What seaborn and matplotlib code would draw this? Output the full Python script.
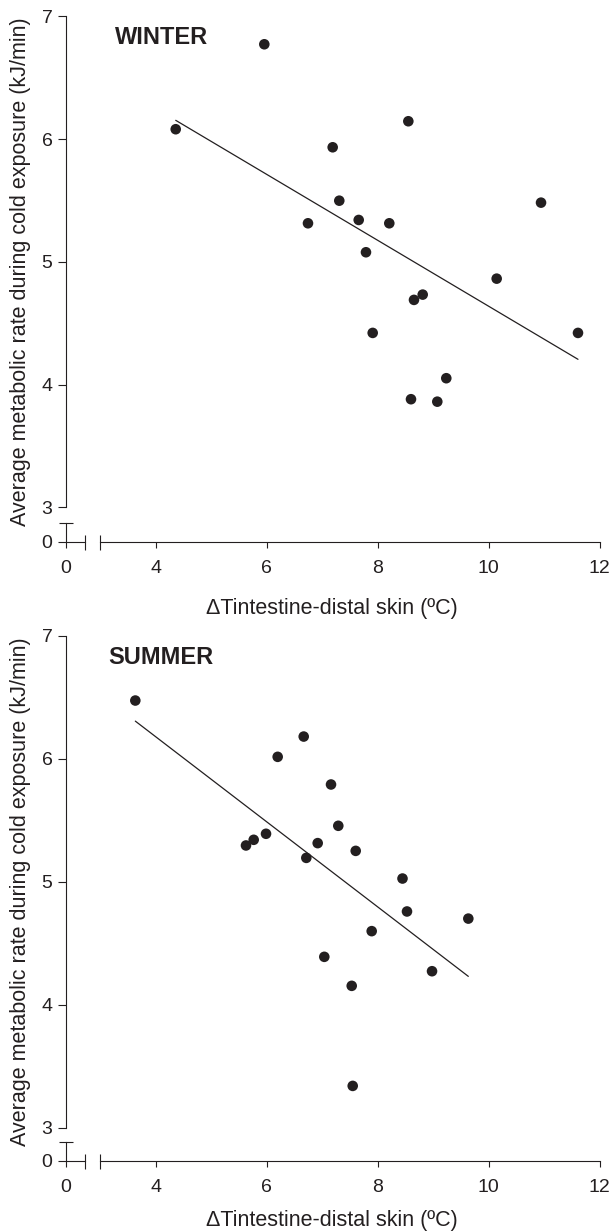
import matplotlib
matplotlib.use('Agg')
import matplotlib.pyplot as plt
import seaborn as sns
import pandas as pd

# ---- data ----
winter_x = [5.955, 4.359, 8.550, 7.187, 7.306, 6.742, 7.656, 8.207, 7.787,
            10.941, 10.142, 8.809, 8.652, 7.908, 11.607, 9.234, 8.598, 9.072]
winter_y = [6.773, 6.081, 6.146, 5.934, 5.499, 5.315, 5.342, 5.315, 5.079,
            5.483, 4.864, 4.734, 4.691, 4.422, 4.422, 4.053, 3.882, 3.862]

summer_x = [3.631, 6.665, 6.196, 7.157, 7.288, 5.986, 5.764, 5.625, 6.917, 7.602,
            6.712, 8.445, 8.526, 9.631, 7.890, 7.036, 8.977, 7.530, 7.548]
summer_y = [6.475, 6.182, 6.017, 5.792, 5.456, 5.391, 5.342, 5.296, 5.315, 5.252,
            5.195, 5.027, 4.759, 4.701, 4.599, 4.390, 4.273, 4.154, 3.340]

x_ticks = [4, 6, 8, 10, 12]
y_ticks = [3, 4, 5, 6, 7]
zero_ticks = [0]
panel_titles = ['WINTER', 'SUMMER']
x_label = '\u0394Tintestine-distal skin (\u00baC)'
y_label = 'Average metabolic rate during cold exposure (kJ/min)'

sns.set_theme(style='white')
plt.rcParams['font.family'] = ['Liberation Sans', 'DejaVu Sans']

INK = '#231f20'
W, H = 610, 1232
fig = plt.figure(figsize=(W / 100, H / 100), dpi=100)
PT = 100 / 72.0  # pixels per point


def rect(l, t, r, b):
    return [l / W, 1 - b / H, (r - l) / W, (b - t) / H]


X0, X3, X12 = 65.6, 100.3, 599.8   # pixel positions of x=0, x=3, x=12
PPX = (X12 - X3) / 9.0

panels = [
    dict(x=winter_x, y=winter_y, title=panel_titles[0], top=16.4, bot3=507.5,
         zero=541.7, title_xy=(115.3, 44.3), xlabel_y=614.5, ylabel_y=272),
    dict(x=summer_x, y=summer_y, title=panel_titles[1], top=636.0, bot3=1127.7,
         zero=1160.7, title_xy=(108.3, 664.0), xlabel_y=1226.0, ylabel_y=892),
]

LW = 0.8
TICK_FS = 14
LABEL_FS = 15.5


def style_ticks(ax):
    ax.tick_params(axis='x', which='major', direction='out', length=4.5, width=LW,
                   pad=8.5, labelsize=TICK_FS, colors=INK, bottom=True)
    ax.tick_params(axis='x', which='minor', direction='inout', length=10.8, width=LW,
                   colors=INK, bottom=True)
    ax.tick_params(axis='y', which='major', direction='out', length=5.5, width=LW,
                   pad=4, labelsize=TICK_FS, colors=INK, left=True)
    for sp in ['top', 'right']:
        ax.spines[sp].set_visible(False)
    for sp in ['left', 'bottom']:
        ax.spines[sp].set_color(INK)
        ax.spines[sp].set_linewidth(LW)
    ax.set_facecolor('none')


for p in panels:
    ppy = (p['bot3'] - p['top']) / 4.0
    ax = fig.add_axes(rect(X3, p['top'], X12, p['bot3']))
    df = pd.DataFrame({'x': p['x'], 'y': p['y']})
    sns.regplot(data=df, x='x', y='y', ax=ax, scatter=False, ci=None, truncate=True,
                line_kws=dict(color=INK, lw=0.9))
    sns.scatterplot(data=df, x='x', y='y', ax=ax, s=58, color=INK, edgecolor='none',
                    linewidth=0, clip_on=False, zorder=3)
    ax.set_xlim(3, 12)
    ax.set_ylim(3, 7)
    ax.set_xlabel('')
    ax.set_ylabel('')
    style_ticks(ax)
    ax.spines['left'].set_position(('outward', (X3 - X0) / PT))
    ax.spines['bottom'].set_position(('outward', (p['zero'] - p['bot3']) / PT))
    ax.set_xticks(x_ticks)
    ax.set_yticks(y_ticks)
    ax.set_xticks([3], minor=True)
    ax.set_yticks([3], minor=True)
    ax.tick_params(axis='y', which='minor', direction='in', length=5.2, width=LW,
                   colors=INK, left=True)

    # small lower-left segment of the broken axes (around the origin)
    axb = fig.add_axes(rect(X0, p['zero'] - 0.15 * ppy, X0 + 0.35 * PPX, p['zero']))
    axb.set_xlim(0, 0.35)
    axb.set_ylim(0, 0.15)
    style_ticks(axb)
    axb.set_xticks(zero_ticks)
    axb.set_yticks(zero_ticks)
    axb.set_xticks([0.35], minor=True)
    axb.set_yticks([0.15], minor=True)
    axb.tick_params(axis='y', which='minor', direction='inout', length=10.5, width=LW,
                    colors=INK, left=True)

    fig.text(p['title_xy'][0] / W, 1 - p['title_xy'][1] / H, p['title'],
             fontsize=17, fontweight='bold', color=INK, ha='left', va='baseline')
    fig.text(331.7 / W, 1 - p['xlabel_y'] / H, x_label, fontsize=LABEL_FS,
             color=INK, ha='center', va='baseline')
    fig.text(21.0 / W, 1 - p['ylabel_y'] / H, y_label, fontsize=LABEL_FS,
             color=INK, ha='center', va='center', rotation=90)

fig.savefig('out.png', dpi=100, facecolor='white')
